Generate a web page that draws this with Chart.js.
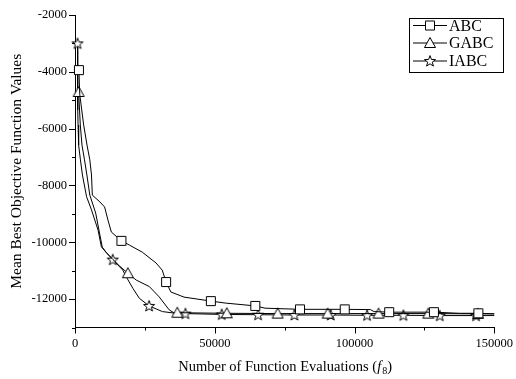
<!DOCTYPE html>
<html>
<head>
<meta charset="utf-8">
<script src="https://cdn.jsdelivr.net/npm/chart.js@4"></script>
<style>
  html, body { margin: 0; padding: 0; background: #fff; }
  #wrap { width: 516px; height: 379px; }
</style>
</head>
<body>
<div id="wrap"><canvas id="chart" width="516" height="379"></canvas></div>
<script>
// ---- data ----
const abcX = [1400, 1700, 3100, 4300, 5300, 5900, 6200, 8900, 10600, 11800, 13000, 16600, 19500, 24100, 29000, 31200, 32600, 34300, 39000, 48600, 53800, 64500, 68000, 80500, 96500, 105700, 107000, 112400, 128400, 137600, 144300, 150000];
const abcY = [-3940, -4800, -5870, -6580, -7100, -7630, -8340, -8580, -8760, -9220, -9640, -9950, -10100, -10350, -10730, -10980, -11400, -11750, -11930, -12070, -12140, -12240, -12320, -12360, -12360, -12370, -12440, -12460, -12460, -12500, -12500, -12520];
const abcMarks = [1400, 16600, 32600, 48600, 64500, 80500, 96500, 112400, 128400, 144300];

const gabcX = [1300, 1900, 2500, 3400, 4250, 5300, 7400, 8700, 9750, 11200, 13600, 16000, 18900, 21900, 26600, 30100, 33700, 35500, 36600, 54300, 72500, 90400, 108600, 126400, 144200, 150000];
const gabcY = [-4710, -5870, -6580, -7100, -7630, -8340, -8970, -9640, -10170, -10360, -10610, -10840, -11090, -11330, -11560, -11920, -12380, -12490, -12480, -12500, -12510, -12510, -12510, -12510, -12520, -12520];
const gabcMarks = [1300, 18900, 36600, 54300, 72500, 90400, 108600, 126400, 144200];

const iabcX = [900, 950, 1000, 1100, 1300, 1950, 2650, 4150, 5900, 8250, 9450, 11000, 13500, 17100, 18300, 20700, 23000, 26500, 31300, 36000, 39500, 52500, 65500, 78500, 91500, 104500, 117500, 130500, 143500, 150000];
const iabcY = [-3000, -4820, -5340, -5870, -6580, -7100, -7630, -8400, -8860, -9570, -10160, -10340, -10610, -10980, -11210, -11620, -11970, -12240, -12440, -12500, -12510, -12540, -12550, -12560, -12560, -12570, -12570, -12580, -12580, -12580];
const iabcMarks = [900, 13500, 26500, 39500, 52500, 65500, 78500, 91500, 104500, 117500, 130500, 143500];

const seriesNames = ['ABC', 'GABC', 'IABC'];
const xTickLabels = [0, 50000, 100000, 150000];
const yTickLabels = [-2000, -4000, -6000, -8000, -10000, -12000];

const FONT = "'Liberation Serif', 'Times New Roman', serif";

// marker images (white fill, black outline)
function makeMarker(kind) {
    const c = document.createElement('canvas');
    c.width = 14; c.height = 14;
    const g = c.getContext('2d');
    g.fillStyle = '#fff';
    g.strokeStyle = '#000';
    g.lineWidth = 1;
    g.beginPath();
    if (kind === 'square') {
        g.rect(2.5, 2.5, 9, 9);
    } else if (kind === 'triangle') {
        g.moveTo(7, 1.5);
        g.lineTo(12.5, 11.5);
        g.lineTo(1.5, 11.5);
        g.closePath();
    } else {
        for (let i = 0; i < 10; i++) {
            const r = i % 2 ? 2.4 : 5.8;
            const a = -Math.PI / 2 + i * Math.PI / 5;
            const px = 7 + r * Math.cos(a), py = 7.4 + r * Math.sin(a);
            if (i === 0) g.moveTo(px, py); else g.lineTo(px, py);
        }
        g.closePath();
    }
    g.fill();
    g.stroke();
    return c;
}
const markers = [makeMarker('square'), makeMarker('triangle'), makeMarker('star')];

function series(label, xs, ys, marks, img) {
    return {
        label,
        data: xs.map((x, i) => ({ x, y: ys[i] })),
        borderColor: '#000',
        borderWidth: 1,
        tension: 0,
        fill: false,
        clip: false,
        pointStyle: img,
        pointRadius: c => marks.includes(xs[c.dataIndex]) ? 5 : 0,
        pointHoverRadius: 0,
        pointHitRadius: 0
    };
}

// minor/major tick marks, x title with subscript, legend box
const decor = {
    id: 'decor',
    afterDraw(chart) {
        const { ctx, chartArea: a, scales: { x, y } } = chart;
        ctx.save();
        ctx.strokeStyle = '#000';
        ctx.lineWidth = 1;
        ctx.beginPath();
        for (let v = 0; v <= 150000; v += 25000) {
            const px = Math.round(x.getPixelForValue(v)) + 0.5;
            const len = xTickLabels.includes(v) ? 6 : 3;
            ctx.moveTo(px, a.bottom);
            ctx.lineTo(px, a.bottom + len);
        }
        for (let v = -13000; v <= -2000; v += 1000) {
            const py = Math.round(y.getPixelForValue(v)) + 0.5;
            const len = yTickLabels.includes(v) ? 6 : 3;
            ctx.moveTo(a.left, py);
            ctx.lineTo(a.left - len, py);
        }
        ctx.stroke();

        // x axis title
        ctx.fillStyle = '#000';
        ctx.textBaseline = 'alphabetic';
        ctx.textAlign = 'left';
        const main = 'Number of Function Evaluations (';
        const fs = 14.5;
        ctx.font = `${fs}px ${FONT}`;
        const w1 = ctx.measureText(main).width;
        ctx.font = `italic ${fs}px ${FONT}`;
        const w2 = ctx.measureText('f').width + 1;
        ctx.font = `10px ${FONT}`;
        const w3 = ctx.measureText('8').width;
        ctx.font = `${fs}px ${FONT}`;
        const w4 = ctx.measureText(')').width;
        let tx = 392 - (w1 + w2 + w3 + w4);
        const base = 370.5;
        ctx.font = `${fs}px ${FONT}`;
        ctx.fillText(main, tx, base); tx += w1;
        ctx.font = `italic ${fs}px ${FONT}`;
        ctx.fillText('f', tx, base); tx += w2;
        ctx.font = `10px ${FONT}`;
        ctx.fillText('8', tx, base + 3); tx += w3;
        ctx.font = `${fs}px ${FONT}`;
        ctx.fillText(')', tx, base);

        // legend
        ctx.strokeRect(409.5, 18.5, 94, 54);
        const rows = [25.5, 43, 61];
        ctx.font = `16px ${FONT}`;
        ctx.textBaseline = 'middle';
        seriesNames.forEach((name, i) => {
            const ry = rows[i];
            ctx.beginPath();
            ctx.moveTo(413, ry);
            ctx.lineTo(447, ry);
            ctx.stroke();
            ctx.drawImage(markers[i], 430 - 7, ry - 7);
            ctx.fillText(name, 449, ry + 1);
        });
        ctx.restore();
    }
};

new Chart(document.getElementById('chart').getContext('2d'), {
    type: 'line',
    data: {
        datasets: [
            series(seriesNames[0], abcX, abcY, abcMarks, markers[0]),
            series(seriesNames[1], gabcX, gabcY, gabcMarks, markers[1]),
            series(seriesNames[2], iabcX, iabcY, iabcMarks, markers[2])
        ]
    },
    options: {
        responsive: false,
        animation: false,
        events: [],
        layout: { padding: { top: 15, right: 18, left: 0, bottom: 0 } },
        plugins: { legend: { display: false }, tooltip: { enabled: false } },
        scales: {
            x: {
                type: 'linear',
                min: 0,
                max: 150000,
                afterFit: s => { s.height = 51.5; },
                border: { display: true, color: '#000', width: 1 },
                grid: { drawOnChartArea: false, color: 'rgba(0,0,0,0)', tickLength: 6 },
                ticks: {
                    stepSize: 50000,
                    padding: 3,
                    color: '#000',
                    font: { family: FONT, size: 12.5 },
                    maxRotation: 0,
                    callback: v => xTickLabels.includes(v) ? String(v) : ''
                }
            },
            y: {
                type: 'linear',
                min: -13000,
                max: -2000,
                afterFit: s => { s.width = 75; },
                border: { display: true, color: '#000', width: 1 },
                grid: { drawOnChartArea: false, color: 'rgba(0,0,0,0)', tickLength: 6 },
                ticks: {
                    stepSize: 1000,
                    padding: 2,
                    color: '#000',
                    font: { family: FONT, size: 12.5 },
                    callback: v => yTickLabels.includes(v) ? String(v) : ''
                },
                title: {
                    display: true,
                    text: 'Mean Best Objective Function Values',
                    color: '#000',
                    font: { family: FONT, size: 15.5 },
                    padding: { top: 8, bottom: 0 }
                }
            }
        }
    },
    plugins: [decor]
});
</script>
</body>
</html>
